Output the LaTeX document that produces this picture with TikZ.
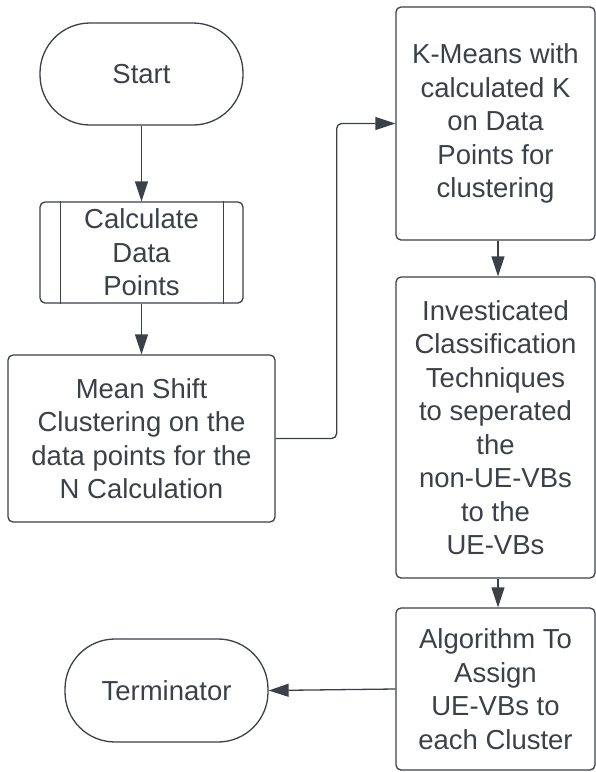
\documentclass[tikz,border=0pt]{standalone}
\usepackage{fontspec}
\setmainfont{Liberation Sans}
\usetikzlibrary{arrows.meta}
\definecolor{ink}{HTML}{3B4049}
\begin{document}
\begin{tikzpicture}[x=1pt,y=-1pt,
  every node/.style={text=ink, font=\fontsize{27.5}{33.5}\selectfont, align=center, inner sep=0pt},
  box/.style={draw=ink, line width=1.3pt, rounded corners=5pt},
  term/.style={draw=ink, line width=1.3pt, rounded corners=50pt},
  conn/.style={draw=ink, line width=1.3pt},
  arr/.style={conn, -{Triangle[length=20pt,width=13pt]}}]
\useasboundingbox (0,0) rectangle (596,772);
\node[term, minimum width=203pt, minimum height=102pt] (start) at (141.5,74) {Start};
\node[box, minimum width=203pt, minimum height=101pt] (calc) at (141.5,252.5) {Calculate\\Data\\Points};
\draw[conn] ([xshift=21pt]calc.north west) -- ([xshift=21pt]calc.south west);
\draw[conn] ([xshift=-20pt]calc.north east) -- ([xshift=-20pt]calc.south east);
\node[box, minimum width=267pt, minimum height=167pt] (mean) at (141.5,438.5) {Mean Shift\\Clustering on the\\data points for the\\N Calculation};
\node[box, minimum width=199pt, minimum height=233pt] (kmeans) at (495.5,123.5) {K-Means with\\calculated K\\on Data\\Points for\\clustering};
\node[box, minimum width=199pt, minimum height=301pt] (invest) at (495.5,427.5) {Investicated\\Classification\\Techniques\\to seperated\\the\\non-UE-VBs\\to the\\UE-VBs};
\node[box, minimum width=199pt, minimum height=162pt] (algo) at (495.5,689) {Algorithm To\\Assign\\UE-VBs to\\each Cluster};
\node[term, minimum width=203pt, minimum height=103pt] (termn) at (166.5,690.5) {Terminator};
\draw[arr] (start) -- (calc);
\draw[arr] (calc) -- (mean);
\draw[arr, rounded corners=5pt] (mean.east) -- ++(61,0) |- (kmeans.west);
\draw[arr] ([xshift=2.5pt]kmeans.south) -- ([xshift=2.5pt]invest.north);
\draw[arr] ([xshift=2.5pt]invest.south) -- ([xshift=2.5pt]algo.north);
\draw[arr] (algo.west) -- (termn.east);
\end{tikzpicture}
\end{document}
